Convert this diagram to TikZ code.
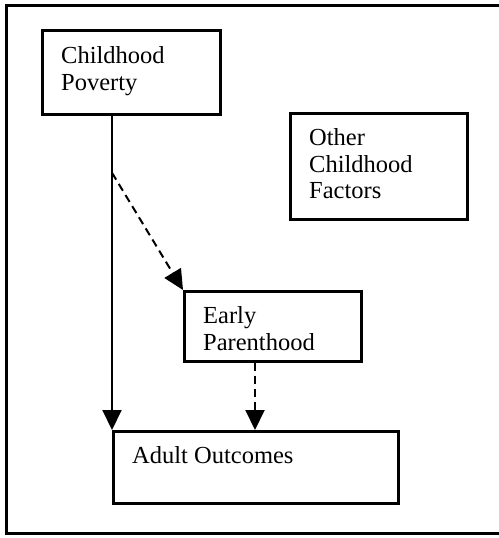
\documentclass[tikz,border=0pt]{standalone}
\usepackage{fontspec}
\setmainfont{Liberation Serif}
\usetikzlibrary{arrows.meta,calc}
\begin{document}
\begin{tikzpicture}[x=1pt,y=-1pt,
  frame/.style={line width=3pt},
  box/.style={draw,line width=2.8pt,rectangle,inner sep=0pt,anchor=north west},
  lbl/.style={anchor=base west,inner sep=0pt,font=\fontsize{24.5}{27}\selectfont},
  link/.style={line width=2pt,-{Triangle[length=20pt,width=19pt]}},
  dlink/.style={link,dash pattern=on 8pt off 5pt}]
\useasboundingbox (0,0) rectangle (498,538);
% outer frame (open on the right)
\draw[frame] (500,5) -- (6,5) -- (6,533) -- (500,533);

% boxes
\node[box,minimum width=178pt,minimum height=84pt] (cp) at (41,29) {};
\node[box,minimum width=177pt,minimum height=106pt] (oc) at (289,112) {};
\node[box,minimum width=177pt,minimum height=70pt] (ep) at (183,290) {};
\node[box,minimum width=285pt,minimum height=72pt] (ao) at (112,430) {};

% labels
\node[lbl] (cp1) at (61,63) {Childhood};
\node[lbl] (cp2) at (61,90) {Poverty};
\node[lbl] (oc1) at (309,145) {Other};
\node[lbl] (oc2) at (309,172) {Childhood};
\node[lbl] (oc3) at (309,198) {Factors};
\node[lbl] (ep1) at (203,323) {Early};
\node[lbl] (ep2) at (203,350) {Parenthood};
\node[lbl] (ao1) at (132,463) {Adult Outcomes};

% connectors
\coordinate (branch) at ($(ao.north west |- cp.south)+(0,57)$);
\coordinate (epout) at ($(ep.south west)+(72,0)$);
\draw[link] (ao.north west |- cp.south) -- (ao.north west);
\draw[dlink] (branch) -- (ep.north west);
\draw[dlink] (epout) -- (epout |- ao.north);
\end{tikzpicture}
\end{document}
